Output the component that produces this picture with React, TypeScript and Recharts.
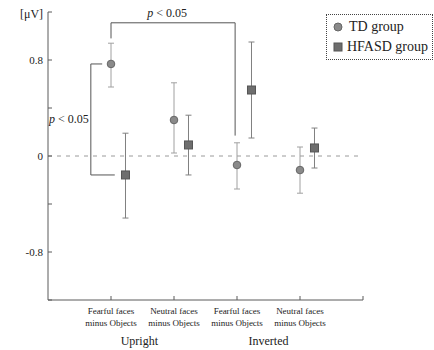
import {
  ComposedChart,
  Scatter,
  XAxis,
  YAxis,
  ErrorBar,
  ReferenceLine,
  Legend,
} from "recharts";

// categories (x position = index + 1), TD on the tick, HFASD shifted right
const catLabels = [
  ["Fearful faces", "minus Objects"],
  ["Neutral faces", "minus Objects"],
  ["Fearful faces", "minus Objects"],
  ["Neutral faces", "minus Objects"],
];
const groupLabels = ["Upright", "Inverted"];
const groupPos = [1.45, 3.5];

const tdMean = [0.767, 0.3, -0.075, -0.117];
const tdLow = [0.575, 0.025, -0.275, -0.31];
const tdHigh = [0.94, 0.61, 0.11, 0.075];

const asdMean = [-0.158, 0.092, 0.55, 0.067];
const asdLow = [-0.517, -0.158, 0.15, -0.1];
const asdHigh = [0.19, 0.34, 0.95, 0.233];

const asdShift = 0.23;
const yTicks = [-1.2, -0.8, -0.4, 0, 0.4, 0.8, 1.2];
const yLabelled = [-0.8, 0, 0.8];
const legendOrder = ["TD group", "HFASD group"];

// significance brackets, in data units
const bracketUpright = [
  [0.86, 0.767, 0.68, 0.767],
  [0.68, 0.767, 0.68, -0.158],
  [0.68, -0.158, 1.06, -0.158],
];
const bracketFearful = [
  [1, 0.98, 1, 1.11],
  [1, 1.11, 2.97, 1.11],
  [2.97, 1.11, 2.97, 0.17],
];

const FONT = "'Liberation Serif', 'DejaVu Serif', serif";
const AXIS = "#5a5a5a";

const tdData = tdMean.map((y, i) => ({
  x: i + 1,
  y,
  err: [y - tdLow[i], tdHigh[i] - y],
}));
const asdData = asdMean.map((y, i) => ({
  x: i + 1 + asdShift,
  y,
  err: [y - asdLow[i], asdHigh[i] - y],
}));

const PLabel = (props: any) => {
  const { viewBox, side } = props;
  const vb = viewBox || {};
  const x = side === "left" ? vb.x - 2 : vb.x + vb.width / 2 - 6;
  const y = side === "left" ? vb.y + vb.height / 2 + 4 : vb.y - 6;
  return (
    <text
      x={x}
      y={y}
      textAnchor={side === "left" ? "end" : "middle"}
      fontSize={12}
      fontFamily={FONT}
      fill="#222"
    >
      <tspan fontStyle="italic">p</tspan> {"< 0.05"}
    </text>
  );
};

const YTick = (props: any) => {
  const { x, y, payload } = props;
  const v = payload.value;
  const show = yLabelled.some((t) => Math.abs(t - v) < 1e-6);
  return (
    <g>
      <line x1={x} x2={x + 4} y1={y} y2={y} stroke={AXIS} />
      {show && (
        <text x={x - 5} y={y + 4} textAnchor="end" fontSize={11} fontFamily={FONT} fill="#222">
          {v === 0 ? "0" : v.toFixed(1)}
        </text>
      )}
    </g>
  );
};

const XTick = (props: any) => {
  const { x, y, payload } = props;
  const v = payload.value;
  const g = groupPos.indexOf(v);
  if (g >= 0) {
    return (
      <text x={x} y={y + 45} textAnchor="middle" fontSize={12} fontFamily={FONT} fill="#222">
        {groupLabels[g]}
      </text>
    );
  }
  const lines = catLabels[v - 1];
  return (
    <g>
      <line x1={x} x2={x} y1={y} y2={y - 4} stroke={AXIS} />
      {lines &&
        lines.map((l, i) => (
          <text key={i} x={x} y={y + 14 + i * 12} textAnchor="middle" fontSize={9} fontFamily={FONT} fill="#222">
            {l}
          </text>
        ))}
    </g>
  );
};

const LegendBox = (props: any) => {
  const items = [...(props.payload || [])].sort(
    (a: any, b: any) => legendOrder.indexOf(a.value) - legendOrder.indexOf(b.value)
  );
  return (
    <div
      style={{
        border: "1px dotted #444",
        padding: "2px 4px 2px 6px",
        fontFamily: FONT,
        fontSize: 14,
        color: "#222",
        background: "#fff",
        whiteSpace: "nowrap",
      }}
    >
      {items.map((p: any) => (
        <div
          key={p.value}
          style={{ display: "flex", alignItems: "center", height: 20, fontFamily: FONT }}
        >
          <svg width={12} height={12} style={{ marginRight: 4 }}>
            {p.value === "TD group" ? (
              <circle cx={5} cy={6} r={4} fill="#8a8a8a" stroke="#666" />
            ) : (
              <rect x={1} y={2} width={8} height={8} fill="#6e6e6e" stroke="#555" />
            )}
          </svg>
          <span style={{ fontFamily: FONT }}>{p.value}</span>
        </div>
      ))}
    </div>
  );
};

export default function App() {
  return (
    <div style={{ position: "absolute", left: 0, top: 0 }}>
      <ComposedChart width={434} height={350} margin={{ top: 12, right: 71, bottom: 0, left: 18 }}>
        <XAxis
          type="number"
          dataKey="x"
          domain={[0, 5]}
          ticks={[1, groupPos[0], 2, 3, groupPos[1], 4, 5]}
          tick={<XTick />}
          tickLine={false}
          tickSize={0}
          tickMargin={0}
          height={50}
          axisLine={{ stroke: AXIS }}
          interval={0}
        />
        <YAxis
          type="number"
          domain={[-1.2, 1.2]}
          ticks={yTicks}
          tick={<YTick />}
          tickLine={false}
          tickSize={0}
          tickMargin={0}
          width={30}
          axisLine={{ stroke: AXIS }}
          interval={0}
        />
        <ReferenceLine y={0} stroke="#9a9a9a" strokeDasharray="4 5" />
        {bracketUpright.map((s, i) => (
          <ReferenceLine
            key={"u" + i}
            segment={[
              { x: s[0], y: s[1] },
              { x: s[2], y: s[3] },
            ]}
            stroke="#555"
            ifOverflow="visible"
            label={i === 1 ? <PLabel side="left" /> : undefined}
          />
        ))}
        {bracketFearful.map((s, i) => (
          <ReferenceLine
            key={"f" + i}
            segment={[
              { x: s[0], y: s[1] },
              { x: s[2], y: s[3] },
            ]}
            stroke="#555"
            ifOverflow="visible"
            label={i === 1 ? <PLabel side="top" /> : undefined}
          />
        ))}
        <Scatter
          name="TD group"
          data={tdData}
          dataKey="y"
          legendType="circle"
          isAnimationActive={false}
          shape={(p: any) => <circle cx={p.cx} cy={p.cy} r={3.8} fill="#8a8a8a" stroke="#666" />}
        >
          <ErrorBar dataKey="err" direction="y" width={3} stroke="#a0a0a0" strokeWidth={1} />
        </Scatter>
        <Scatter
          name="HFASD group"
          data={asdData}
          dataKey="y"
          legendType="square"
          isAnimationActive={false}
          shape={(p: any) => <rect x={p.cx - 4} y={p.cy - 4} width={8} height={8} fill="#6e6e6e" stroke="#555" />}
        >
          <ErrorBar dataKey="err" direction="y" width={3} stroke="#808080" strokeWidth={1} />
        </Scatter>
        <Legend
          layout="vertical"
          align="center"
          verticalAlign="middle"
          content={<LegendBox />}
          wrapperStyle={{
            position: "absolute",
            left: 326,
            top: 14,
            width: 107,
            height: 45,
            fontFamily: FONT,
          }}
        />
        <text x={20} y={18} fontSize={12} fontFamily={FONT} fill="#222">
          [μV]
        </text>
      </ComposedChart>
    </div>
  );
}
